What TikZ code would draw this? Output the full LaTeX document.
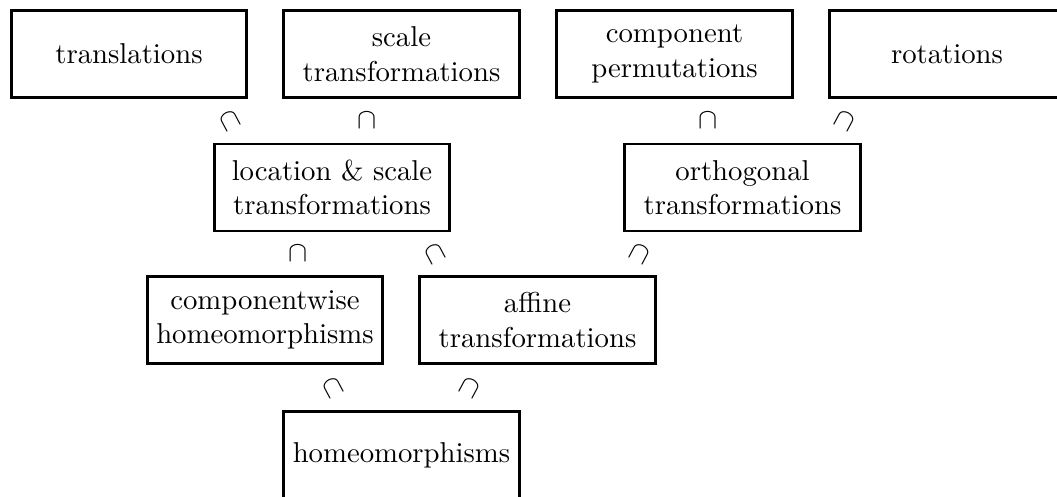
\documentclass[tikz,border=0pt]{standalone}
\usepackage{amssymb}
\usepackage{amsmath}
\usetikzlibrary{positioning}

\begin{document}
\begin{tikzpicture}[x=0.348pt,y=-0.348pt,
    group/.style={draw,line width=1pt,minimum width=82pt,minimum height=30.3pt,inner sep=2pt,align=center},
    incl/.style={inner sep=0pt}]
	\useasboundingbox (0,0) rectangle (1057,496);
	\node[group] (translations) at (129,54) {translations};
	\node[group] (scale) at (401.5,54) {scale\\transformations};
	\node[group] (perm) at (674.5,54) {component\\permutations};
	\node[group] (rotations) at (947,54) {rotations};
	\node[group] (loc_scale) at (332,187.5) {location \& scale\\transformations};
	\node[group] (orthogonal) at (742.5,187.5) {orthogonal\\transformations};
	\node[group] (comp_homeo) at (265,320) {componentwise\\homeomorphisms};
	\node[group] (affine) at (537.5,320) {affine\\transformations};
	\node[group] (homeo) at (401.5,455) {homeomorphisms};
	\path (translations) -- node[incl,rotate=28] {$\cap$} (loc_scale);
	\path (scale) -- node[incl] {$\cap$} (loc_scale);
	\path (perm) -- node[incl] {$\cap$} (orthogonal);
	\path (rotations) -- node[incl,rotate=-28] {$\cap$} (orthogonal);
	\path (loc_scale) -- node[incl] {$\cap$} (comp_homeo);
	\path (loc_scale) -- node[incl,rotate=28] {$\cap$} (affine);
	\path (orthogonal) -- node[incl,rotate=-28] {$\cap$} (affine);
	\path (comp_homeo) -- node[incl,rotate=28] {$\cap$} (homeo);
	\path (affine) -- node[incl,rotate=-28] {$\cap$} (homeo);
\end{tikzpicture}
\end{document}
